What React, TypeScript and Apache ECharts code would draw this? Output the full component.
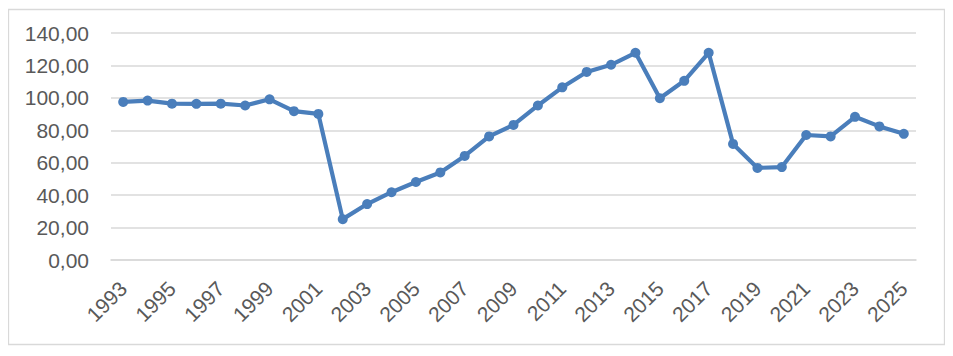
import React, { useEffect, useRef } from "react";
import * as echarts from "echarts";

const years: string[] = [
  "1993", "1994", "1995", "1996", "1997", "1998", "1999", "2000", "2001", "2002", "2003",
  "2004", "2005", "2006", "2007", "2008", "2009", "2010", "2011", "2012", "2013", "2014",
  "2015", "2016", "2017", "2018", "2019", "2020", "2021", "2022", "2023", "2024", "2025",
];

const values: number[] = [
  97.5, 98.3, 96.4, 96.3, 96.4, 95.3, 99.1, 91.8, 90.1, 25.2, 34.5,
  41.8, 48.1, 54.0, 64.2, 76.2, 83.3, 95.3, 106.5, 116.0, 120.4, 127.8,
  99.8, 110.5, 127.8, 71.6, 56.8, 57.3, 77.1, 76.2, 88.3, 82.4, 77.8,
];

const yMin = 0;
const yMax = 140;
const yStep = 20;

export default function App() {
  const ref = useRef<HTMLDivElement>(null);
  useEffect(() => {
    if (!ref.current) return;
    const chart = echarts.init(ref.current, null, { renderer: "svg" });
    const font = "'Liberation Sans', Arial, sans-serif";
    chart.setOption({
      animation: false,
      backgroundColor: "#ffffff",
      graphic: [
        {
          type: "rect",
          shape: { x: 0.5, y: 1.5, width: 936, height: 335 },
          style: { fill: "none", stroke: "#d9d9d9", lineWidth: 1.3 },
          silent: true,
        },
      ],
      grid: { left: 103, right: 29, top: 25, height: 227, containLabel: false },
      xAxis: {
        type: "category",
        data: years,
        boundaryGap: true,
        axisLine: { show: true, lineStyle: { color: "#d9d9d9", width: 1.6 } },
        axisTick: { show: false },
        axisLabel: {
          interval: 1,
          rotate: 45,
          margin: 25,
          color: "#595959",
          fontSize: 21,
          fontFamily: font,
        },
        splitLine: { show: false },
      },
      yAxis: {
        type: "value",
        min: yMin,
        max: yMax,
        interval: yStep,
        axisLine: { show: false },
        axisTick: { show: false },
        axisLabel: {
          margin: 22,
          color: "#595959",
          fontSize: 21,
          fontFamily: font,
          formatter: (v: number) => v.toFixed(2).replace(".", ","),
        },
        splitLine: { show: true, lineStyle: { color: "#d9d9d9", width: 1.6 } },
      },
      series: [
        {
          type: "line",
          data: values,
          symbol: "circle",
          symbolSize: 10,
          lineStyle: { color: "#4a7ebb", width: 4.2 },
          itemStyle: { color: "#4a7ebb" },
        },
      ],
    });
    return () => chart.dispose();
  }, []);
  return <div ref={ref} style={{ width: 937, height: 340 }} />;
}
